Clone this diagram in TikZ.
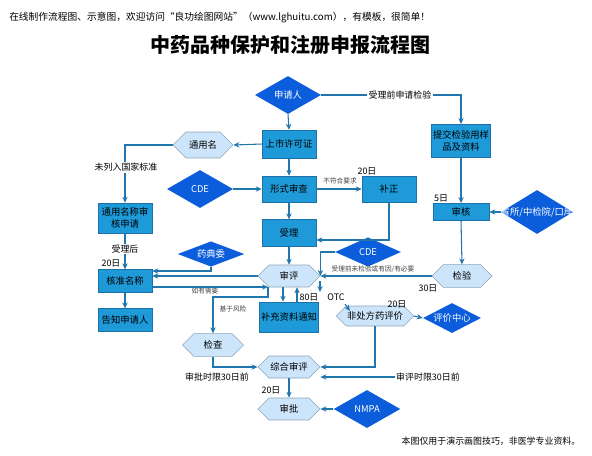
\documentclass[tikz,border=0pt]{standalone}
\usepackage{fontspec}
\setmainfont{Noto Sans CJK SC}
\usetikzlibrary{shapes.geometric,shapes.symbols,arrows.meta}
\definecolor{diablue}{HTML}{0B5DDB}
\definecolor{rectblue}{HTML}{1E9AD9}
\definecolor{rectborder}{HTML}{1F6FA8}
\definecolor{hexfill}{HTML}{CDE5FA}
\definecolor{hexborder}{HTML}{8FA3B5}
\definecolor{linecol}{HTML}{2176AE}
\begin{document}
\begin{tikzpicture}[x=0.75pt,y=-0.75pt,
  rectbox/.style={rectangle,fill=rectblue,draw=rectborder,minimum width=40.5pt,inner sep=1pt,align=center,font=\fontsize{7}{8.5}\selectfont},
  hexbox/.style={signal,signal to=west and east,fill=hexfill,draw=hexborder,minimum width=46.5pt,minimum height=16.5pt,inner sep=0.5pt,font=\fontsize{7}{8.5}\selectfont},
  diabox/.style={diamond,fill=diablue,inner sep=0pt},
  dtext/.style={text=white,inner sep=0pt,font=\fontsize{7}{8.5}\selectfont},
  lbl/.style={inner sep=1pt,font=\fontsize{6.7}{8}\selectfont},
  slbl/.style={inner sep=1pt,font=\fontsize{5}{6}\selectfont,text=black!75},
  conn/.style={draw=linecol,line width=0.8pt,-{Stealth[length=4.5pt,width=4pt]}},
  plain/.style={draw=linecol,line width=0.8pt}]
\useasboundingbox (0,0) rectangle (592,455);
% header
\node[anchor=west,inner sep=0pt,font=\fontsize{7.3}{9}\selectfont] (hdr) at (9,18) {在线制作流程图、示意图，欢迎访问“良功绘图网站”（www.lghuitu.com），有模板，很简单！};
\node[font=\fontsize{15}{18}\selectfont\bfseries] (title) at (290,45) {中药品种保护和注册申报流程图};
% nodes
\node[diabox,minimum width=49.5pt,minimum height=28.5pt] (sq) at (288,95) {};
\node[dtext] (sqt) at (sq) {申请人};
\node[rectbox,minimum height=21pt] (ssxk) at (289,144) {上市许可证};
\node[hexbox,minimum width=45pt,minimum height=19.5pt] (tym) at (203,145) {通用名};
\node[diabox,minimum width=49.5pt,minimum height=28.5pt] (cde1) at (200,189) {};
\node[dtext] (cde1t) at (cde1) {CDE};
\node[rectbox,minimum height=19.5pt] (xssc) at (289,189) {形式审查};
\node[rectbox,minimum height=19.5pt] (bz) at (389,189) {补正};
\node[rectbox,minimum height=20pt] (sl) at (289,233) {受理};
\node[rectbox,minimum height=22.5pt] (tymsh) at (125,218) {通用名称审\\核申请};
\node[rectbox,minimum height=17pt] (hzmc) at (125,281) {核准名称};
\node[rectbox,minimum height=17pt] (gz) at (125,320) {告知申请人};
\node[diabox,minimum width=50pt,minimum height=19pt] (ydw) at (211,254) {};
\node[dtext] (ydwt) at (ydw) {药典委};
\node[hexbox] (sp) at (289,276) {审评};
\node[rectbox,minimum width=41pt,minimum height=22.5pt] (bczl) at (289,317) {补充资料通知};
\node[diabox,minimum width=49.5pt,minimum height=22pt] (cde2) at (368,252) {};
\node[dtext] (cde2t) at (cde2) {CDE};
\node[hexbox,minimum width=45pt,minimum height=17pt] (jy) at (462,276) {检验};
\node[rectbox,minimum width=43pt,minimum height=25pt] (tjjy) at (461,141) {提交检验用样\\品及资料};
\node[rectbox,minimum width=42pt,minimum height=13pt] (sh) at (461,212) {审核};
\node[diabox,minimum width=54pt,minimum height=33pt] (ssj) at (537,212) {};
\node[dtext] (ssjt) at (ssj) {省所/中检院/口岸};
\node[hexbox,minimum width=46pt,minimum height=15pt] (fcf) at (375,316) {非处方药评价};
\node[diabox,minimum width=43.5pt,minimum height=22.5pt] (pjzx) at (452,318) {};
\node[dtext] (pjzxt) at (pjzx) {评价中心};
\node[hexbox,minimum width=45.75pt,minimum height=17pt] (jc) at (213,345) {检查};
\node[hexbox] (zhsp) at (289,367) {综合审评};
\node[hexbox] (spi) at (289,409) {审批};
\node[diabox,minimum width=50pt,minimum height=28.5pt] (nmpa) at (367,409) {};
\node[dtext] (nmpat) at (nmpa) {NMPA};
% labels
\node[lbl] (l1) at (400,95) {受理前申请检验};
\node[lbl] (l3) at (340,181) {\fontsize{5}{6}\selectfont\color{black!75}不符合要求};
\node[lbl] (l4) at (367,171) {20日};
\node[lbl] (l6) at (111,263) {20日};
\node[slbl] (l7) at (205,291) {如有需要};
\node[slbl] (l8) at (233,309) {基于风险};
\node[lbl] (l9) at (309,297) {80日};
\node[slbl] (l10) at (373,269) {受理前未检验或有因/有必要};
\node[lbl] (l11) at (428,288) {30日};
\node[lbl] (l12) at (441,198) {5日};
\node[lbl] (l13) at (336,297) {OTC};
\node[lbl] (l14) at (397,304) {20日};
\node[lbl] (l15) at (217,377) {审批时限30日前};
\node[lbl] (l16) at (428,377) {审评时限30日前};
\node[lbl] (l17) at (271,390) {20日};
\node[lbl] (foot) at (491,441) {本图仅用于演示画图技巧，非医学专业资料。};
% coordinates
\coordinate (c1) at (389,240);
\coordinate (c2) at (211,271);
\coordinate (c3) at (152,287);
\coordinate (c4) at (268,287);
\coordinate (c5) at (268,297);
\coordinate (o1) at (320,281);
\coordinate (o2) at (320,292);
\coordinate (o3) at (345,304);
\coordinate (o4) at (350,311);
% connectors
\draw[plain] (sq.east) -- (l1.west);
\draw[conn] (l1.east) -| (tjjy.north);
\draw[conn] (sq.south) -- (ssxk.north);
\draw[conn] (ssxk.west) -- (tym.east);
\draw[conn] (tym.west) -| (tymsh.north);
\node[lbl,fill=white] (l2) at (126,167) {未列入国家标准};
\draw[conn] (cde1.east) -- (xssc.west);
\draw[conn] (ssxk.south) -- (xssc.north);
\draw[conn] (xssc.east) -- (bz.west);
\draw[conn] (xssc.south) -- (sl.north);
\draw[conn] (bz.south) -- (c1) -- (c1 -| sl.east);
\draw[conn] (tymsh.south) -- (hzmc.north);
\node[lbl,fill=white] (l5) at (125,249) {受理后};
\draw[conn] (ydw.south) -- (c2) -- (c2 -| hzmc.east);
\draw[conn] (sp.west) -- (sp.west -| hzmc.east);
\draw[conn] (c3) -- (c4);
\draw[conn] (c4) -- (c5) -| (jc.north);
\draw[conn] (hzmc.south) -- (gz.north);
\draw[conn] (sl.south) -- (sp.north);
\draw[conn] ([xshift=-4.5pt]sp.south) -- ([xshift=-4.5pt]bczl.north);
\draw[conn] ([xshift=6pt]bczl.north) -- ([xshift=6pt]sp.south);
\draw[conn] (jy.west) -- (sp.east);
\draw[conn] (cde2.west) -| (sp.east);
\draw[conn] (o1) -- (o2);
\draw[conn] (o3) -- (o4);
\draw[conn] (fcf.east) -- (pjzx.west);
\draw[conn] (fcf.south) |- (zhsp.east);
\draw[conn] (l16.west) -- (l16.west -| zhsp.east);
\draw[conn] (jc.south) |- (zhsp.west);
\draw[conn] (zhsp.south) -- (spi.north);
\draw[conn] (nmpa.west) -- (spi.east);
\draw[conn] (tjjy.south) -- (sh.north);
\draw[conn] (ssj.west) -- (sh.east);
\draw[conn] (sh.south) -- (jy.north);
\end{tikzpicture}
\end{document}
